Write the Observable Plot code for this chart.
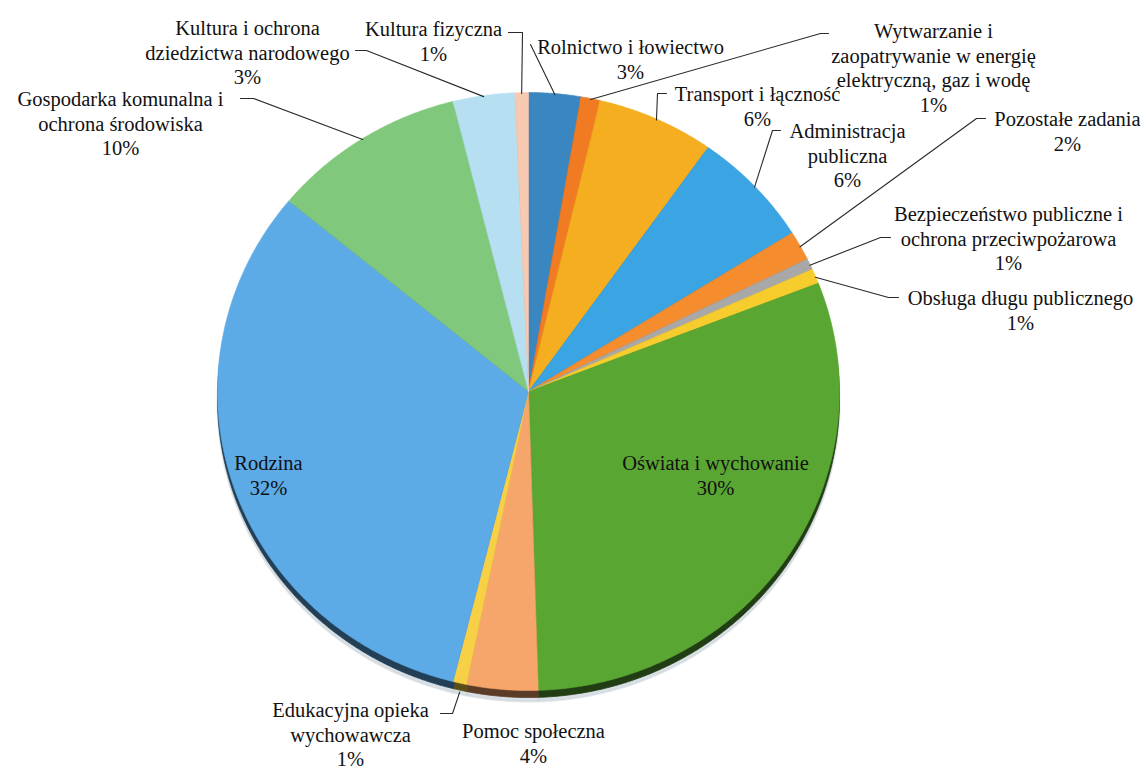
<!DOCTYPE html>
<html><head><meta charset="utf-8">
<script src="https://cdn.jsdelivr.net/npm/d3@7"></script>
<script src="https://cdn.jsdelivr.net/npm/@observablehq/plot@0.6"></script>
<style>
body{margin:0;background:#fff}
#chart svg text, #chart svg tspan { font-family: "Liberation Serif", "Times New Roman", "DejaVu Serif", serif !important; }
</style>
</head><body><div id="chart"></div>
<script>
// Slices, clockwise from 12 o'clock
const names = [
  "Rolnictwo i łowiectwo",
  "Wytwarzanie i zaopatrywanie w energię elektryczną, gaz i wodę",
  "Transport i łączność",
  "Administracja publiczna",
  "Pozostałe zadania",
  "Bezpieczeństwo publiczne i ochrona przeciwpożarowa",
  "Obsługa długu publicznego",
  "Oświata i wychowanie",
  "Pomoc społeczna",
  "Edukacyjna opieka wychowawcza",
  "Rodzina",
  "Gospodarka komunalna i ochrona środowiska",
  "Kultura i ochrona dziedzictwa narodowego",
  "Kultura fizyczna"
];
const values = [2.7, 1.0, 6.1, 6.3, 1.6, 0.6, 0.8, 30.4, 3.7, 0.7, 32.1, 10.1, 3.2, 0.7];
const colors = ["#3a86c0", "#f07b22", "#f4ae1f", "#3ba4e2", "#f58c2e", "#a8a8a8", "#f6cd2c",
                "#5aa633", "#f6a66b", "#f7d045", "#5caae6", "#80c87b", "#b6e0f2", "#f7c9b1"];
const labelText = [
  "Rolnictwo i łowiectwo",
  "Wytwarzanie i\nzaopatrywanie w energię\nelektryczną, gaz i wodę",
  "Transport i łączność",
  "Administracja\npubliczna",
  "Pozostałe zadania",
  "Bezpieczeństwo publiczne i\nochrona przeciwpożarowa",
  "Obsługa długu publicznego",
  "Oświata i wychowanie",
  "Pomoc społeczna",
  "Edukacyjna opieka\nwychowawcza",
  "Rodzina",
  "Gospodarka komunalna i\nochrona środowiska",
  "Kultura i ochrona\ndziedzictwa narodowego",
  "Kultura fizyczna"
];

// Layout (pixel positions of label first lines and leader starts)
const labelPos = [[630,46],[933,30],[757,93],[847,130],[1067,118],[1008,213],[1020,297],
                  [715,462],[533,730],[350,709],[268,462],[120,98],[247,27],[433,28]];
const leaderStart = [[[530,44]], [[828,33],[820,33]], [[666,93],[657,93]], [[780,130],[772,130]],
                     [[985,118],[976,118]], [[890,237],[880,237]], [[898,297],[888,297]],
                     null, null, [[440,713],[452,713]], null,
                     [[240,98],[253,98]], [[355,50],[366,50]], [[508,32],[522,32]]];

const W = 1146, H = 771;
const cx = 528, cy = 391, rx = 311, ry = 299, rim = 7;
const fontSize = 20.5, lineH = 24.5;

const arcs = d3.pie().sort(null).value(d => d)(values);
const pt = (a, r = 1, dy = 0) => [cx + rx * r * Math.sin(a), cy - ry * r * Math.cos(a) + dy];

function slicePoly(i, dy) {
  const a0 = arcs[i].startAngle, a1 = arcs[i].endAngle;
  const n = Math.max(2, Math.ceil((a1 - a0) / (Math.PI / 360)));
  const pts = [[cx, cy + dy]];
  for (let k = 0; k <= n; k++) pts.push(pt(a0 + (a1 - a0) * k / n, 1, dy));
  pts.push([cx, cy + dy]);
  return pts;
}

const topRows = [], rimRows = [], shadowRows = [];
names.forEach((nm, i) => {
  slicePoly(i, 0).forEach(([x, y]) => topRows.push({slice: nm, x, y, fill: colors[i]}));
  slicePoly(i, rim).forEach(([x, y]) => rimRows.push({slice: nm, x, y, fill: d3.color(colors[i]).darker(2.8).formatHex()}));
  slicePoly(i, rim + 4).forEach(([x, y]) => shadowRows.push({slice: nm, x, y}));
});

const leaderRows = [];
names.forEach((nm, i) => {
  if (!leaderStart[i]) return;
  const mid = (arcs[i].startAngle + arcs[i].endAngle) / 2;
  const end = pt(mid, 1, Math.cos(mid) < 0 ? rim + 2 : 1);
  [...leaderStart[i], end].forEach(([x, y]) => leaderRows.push({slice: nm, x, y}));
});

const labels = names.map((nm, i) => {
  const pct = Math.round(values[i]) + "%";
  const text = labelText[i] + "\n" + pct;
  const n = text.split("\n").length;
  return {text, x: labelPos[i][0], y: labelPos[i][1] + (n - 1) * lineH / 2};
});

const chart = Plot.plot({
  width: W, height: H,
  margin: 0,
  x: {domain: [0, W], range: [0, W], axis: null},
  y: {domain: [0, H], range: [0, H], axis: null},
  color: {type: "identity"},
  style: {background: "#fff"},
  marks: [
    Plot.line(shadowRows, {x: "x", y: "y", z: "slice", fill: "#c9d3da", stroke: "#c9d3da", strokeWidth: 2, fillOpacity: 0.7, strokeOpacity: 0.5, curve: "linear"}),
    Plot.line(rimRows, {x: "x", y: "y", z: "slice", fill: "fill", stroke: "fill", strokeWidth: 0.8, curve: "linear"}),
    Plot.line(topRows, {x: "x", y: "y", z: "slice", fill: "fill", stroke: "fill", strokeWidth: 0.6, curve: "linear"}),
    Plot.line(leaderRows, {x: "x", y: "y", z: "slice", stroke: "#2a2a2a", strokeWidth: 1.1, curve: "linear"}),
    Plot.text(labels, {x: "x", y: "y", text: "text", fontSize, fontFamily: "Liberation Serif", lineHeight: lineH / fontSize, fill: "#111", textAnchor: "middle", lineAnchor: "middle"})
  ]
});
document.getElementById("chart").appendChild(chart);
</script>
</body></html>
